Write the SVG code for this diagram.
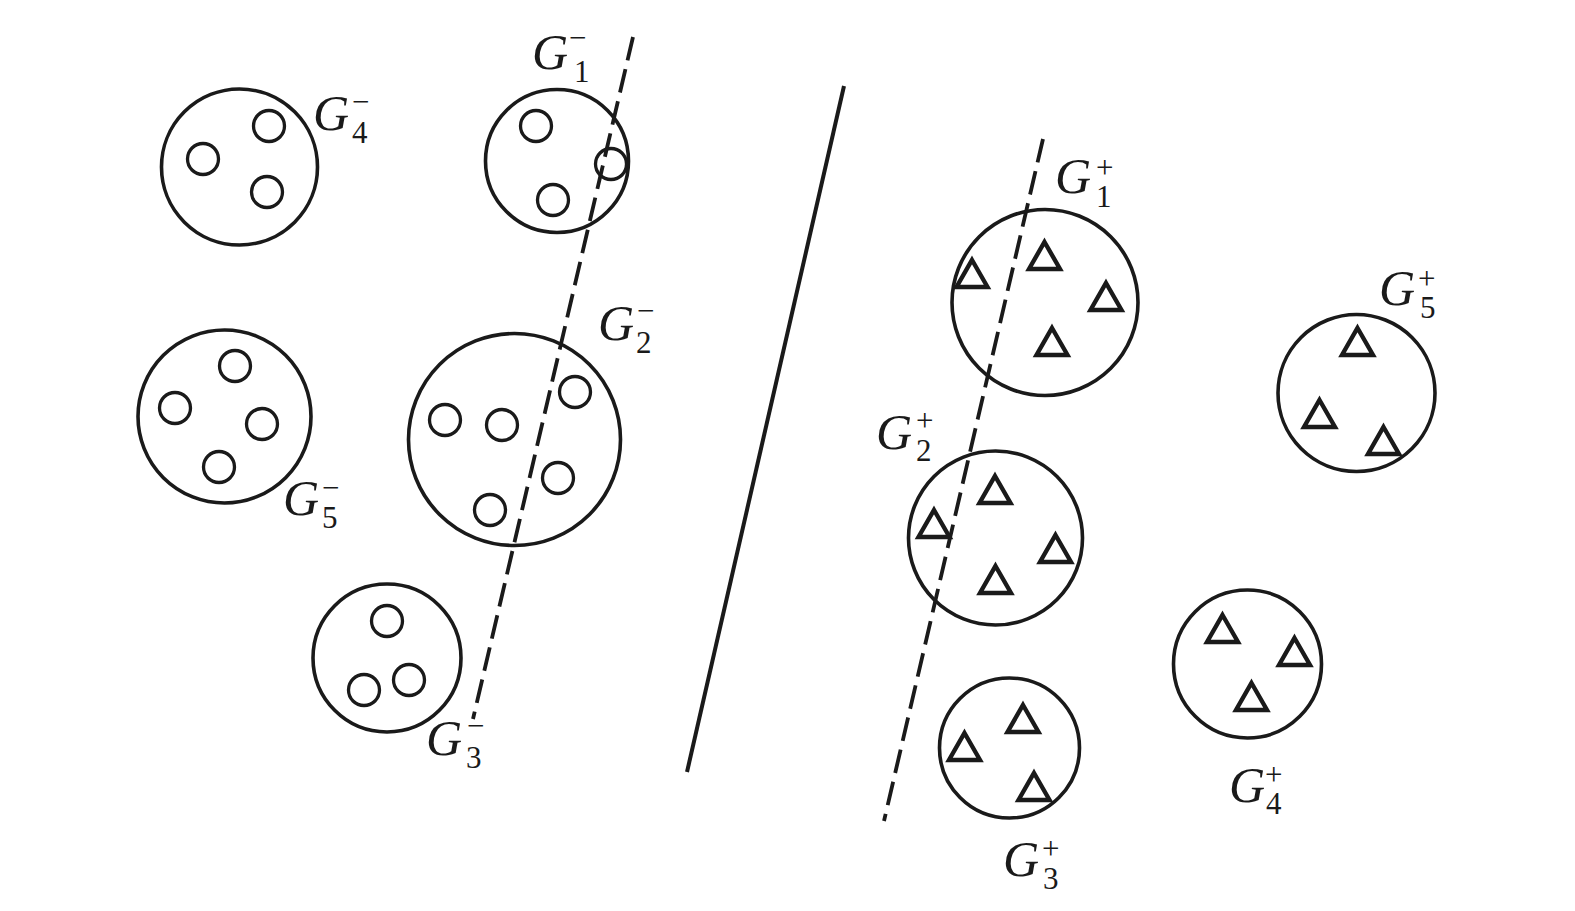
<svg xmlns="http://www.w3.org/2000/svg" xmlns:xlink="http://www.w3.org/1999/xlink" width="1575" height="911" viewBox="0 0 1575 911">
<style>
.big{fill:none;stroke:#1a1a1a;stroke-width:3.6}
.sm{fill:none;stroke:#1a1a1a;stroke-width:3.3}
.tri{fill:none;stroke:#1a1a1a;stroke-width:4.4;stroke-linejoin:miter}
.dash{fill:none;stroke:#1a1a1a;stroke-width:3.8;stroke-dasharray:24 9}
.solid{fill:none;stroke:#1a1a1a;stroke-width:4}
.g{font-family:'Liberation Serif','Times New Roman',serif;font-style:italic;font-size:50px;fill:#1a1a1a}
.s{font-family:'Liberation Serif','Times New Roman',serif;font-size:31px;fill:#1a1a1a}
</style>
<defs>
<path id="t" class="tri" d="M0,0 L15.5,27 L-15.5,27 Z"/>
</defs>
<rect width="1575" height="911" fill="#fff"/>
<g id="connectors">
<line class="dash" x1="633" y1="37" x2="473" y2="719"/>
<line class="solid" x1="844" y1="86" x2="687" y2="772"/>
<line class="dash" x1="1043" y1="139" x2="884" y2="821"/>
</g>
<g id="G4minus">
<circle class="big" cx="239.5" cy="167" r="78"/>
<circle class="sm" cx="269" cy="126" r="15.5"/>
<circle class="sm" cx="203" cy="159" r="15.5"/>
<circle class="sm" cx="267" cy="192" r="15.5"/>
<text class="g" x="313" y="130">G</text><text class="s" x="352" y="143">4</text><text class="s" x="352" y="112">−</text>
</g>
<g id="G1minus">
<circle class="big" cx="557" cy="161" r="71.5"/>
<circle class="sm" cx="536" cy="126" r="15.5"/>
<circle class="sm" cx="553" cy="200" r="15.5"/>
<circle class="sm" cx="611" cy="164" r="15.5"/>
<text class="g" x="532" y="69">G</text><text class="s" x="574" y="82">1</text><text class="s" x="569" y="48">−</text>
</g>
<g id="G2minus">
<circle class="big" cx="514.5" cy="439.5" r="106"/>
<circle class="sm" cx="445" cy="420" r="15.5"/>
<circle class="sm" cx="502" cy="425" r="15.5"/>
<circle class="sm" cx="575" cy="392" r="15.5"/>
<circle class="sm" cx="558" cy="478" r="15.5"/>
<circle class="sm" cx="490" cy="510" r="15.5"/>
<text class="g" x="598" y="340">G</text><text class="s" x="636" y="353">2</text><text class="s" x="637" y="321">−</text>
</g>
<g id="G5minus">
<circle class="big" cx="224.5" cy="416.5" r="86.5"/>
<circle class="sm" cx="235" cy="366" r="15.5"/>
<circle class="sm" cx="175" cy="408" r="15.5"/>
<circle class="sm" cx="262" cy="424" r="15.5"/>
<circle class="sm" cx="219" cy="467" r="15.5"/>
<text class="g" x="283" y="515">G</text><text class="s" x="322" y="528">5</text><text class="s" x="322" y="498">−</text>
</g>
<g id="G3minus">
<circle class="big" cx="387" cy="658" r="74"/>
<circle class="sm" cx="387" cy="621" r="15.5"/>
<circle class="sm" cx="364" cy="690" r="15.5"/>
<circle class="sm" cx="409" cy="680" r="15.5"/>
<text class="g" x="426" y="755">G</text><text class="s" x="466" y="768">3</text><text class="s" x="467" y="736">−</text>
</g>
<g id="G1plus">
<circle class="big" cx="1045" cy="302.5" r="93"/>
<use href="#t" x="972" y="260"/>
<use href="#t" x="1044.5" y="242"/>
<use href="#t" x="1106" y="283"/>
<use href="#t" x="1052" y="328"/>
<text class="g" x="1055" y="193">G</text><text class="s" x="1096" y="207">1</text><text class="s" x="1096" y="178">+</text>
</g>
<g id="G5plus">
<circle class="big" cx="1356.5" cy="393" r="78.5"/>
<use href="#t" x="1357.5" y="328"/>
<use href="#t" x="1319.5" y="400"/>
<use href="#t" x="1383.5" y="427"/>
<text class="g" x="1379" y="305">G</text><text class="s" x="1420" y="318">5</text><text class="s" x="1418" y="289">+</text>
</g>
<g id="G2plus">
<circle class="big" cx="995.5" cy="538" r="87"/>
<use href="#t" x="995" y="476"/>
<use href="#t" x="934" y="510"/>
<use href="#t" x="1055.5" y="535"/>
<use href="#t" x="995.5" y="566"/>
<text class="g" x="876" y="449">G</text><text class="s" x="916" y="461">2</text><text class="s" x="916" y="431">+</text>
</g>
<g id="G3plus">
<circle class="big" cx="1009.5" cy="748" r="70"/>
<use href="#t" x="1023" y="705"/>
<use href="#t" x="964.5" y="733"/>
<use href="#t" x="1034" y="773"/>
<text class="g" x="1003" y="876">G</text><text class="s" x="1043" y="889">3</text><text class="s" x="1042" y="859">+</text>
</g>
<g id="G4plus">
<circle class="big" cx="1247.5" cy="664" r="74"/>
<use href="#t" x="1222.5" y="615"/>
<use href="#t" x="1294.5" y="638"/>
<use href="#t" x="1251.5" y="683"/>
<text class="g" x="1229" y="802">G</text><text class="s" x="1266" y="814">4</text><text class="s" x="1265" y="785">+</text>
</g>
</svg>
